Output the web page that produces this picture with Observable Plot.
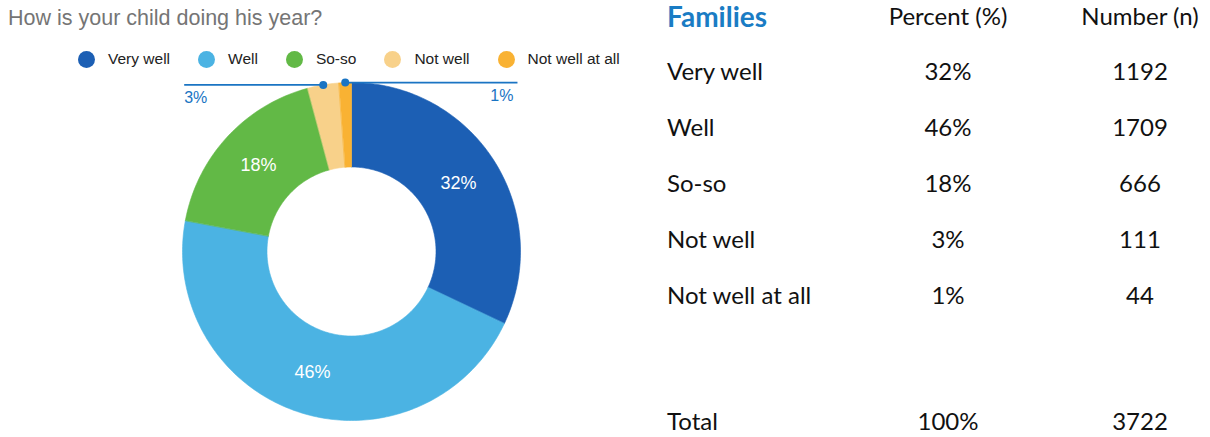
<!DOCTYPE html>
<html>
<head>
<meta charset="utf-8">
<script src="https://cdn.jsdelivr.net/npm/d3@7"></script>
<script src="https://cdn.jsdelivr.net/npm/@observablehq/plot@0.6"></script>
<style>
  html, body { margin: 0; padding: 0; background: #fff; }
  #page { position: relative; width: 1210px; height: 437px; overflow: hidden; background: #fff; }
  #title { position: absolute; left: 8px; top: 6px; font: 21.5px/24px "Liberation Sans", Arial, sans-serif; color: #757575; white-space: nowrap; }
  #legend { position: absolute; left: 78px; top: 50px; display: flex; align-items: center; font: 15.5px "Liberation Sans", Arial, sans-serif; color: #222; white-space: nowrap; }
  #legend .item { display: flex; align-items: center; margin-right: 28px; }
  #legend .sw { width: 17px; height: 17px; border-radius: 50%; margin-right: 13px; }
  #chart { position: absolute; left: 0; top: 0; }
  .cell { position: absolute; height: 40px; line-height: 40px; font-family: Lato, "Open Sans", sans-serif; font-size: 24px; color: #111; white-space: nowrap; }
  .c0 { left: 667px; }
  .c1 { left: 848px; width: 200px; text-align: center; }
  .c2 { left: 1040px; width: 200px; text-align: center; }
  .hdr0 { font-weight: bold; color: #1a7cc4; font-size: 28px; }
</style>
</head>
<body>
<div id="page">
  <div id="title"></div>
  <div id="legend"></div>
  <div id="chart"></div>
  <div id="table"></div>
</div>
<script>
// ---- data ----
const title = "How is your child doing his year?";
const categories = ["Very well", "Well", "So-so", "Not well", "Not well at all"];
const counts = [1192, 1709, 666, 111, 44];
const colors = ["#1c5fb4", "#4bb3e3", "#62b946", "#f8d18a", "#f9b233"];
const tableHeader = ["Families", "Percent (%)", "Number (n)"];
const totalLabel = "Total";
const totalPercent = "100%";
const totalCount = 3722;

// ---- derived ----
const sum = d3.sum(counts);
const fracs = counts.map(c => c / sum);
const pctText = fracs.map(f => Math.round(f * 100) + "%");
const HOLE = 0.5;
const TAU = 2 * Math.PI;

let cum = 0;
const slices = categories.map((cat, i) => {
  const a0 = cum * TAU;
  cum += fracs[i];
  const a1 = cum * TAU;
  return {cat, a0, a1, mid: (a0 + a1) / 2, frac: fracs[i], label: pctText[i]};
});

// ring polygons sampled from data angles
const arcPoints = [];
for (const s of slices) {
  const n = Math.max(2, Math.ceil((s.a1 - s.a0) / TAU * 360));
  for (let k = 0; k <= n; k++) {
    const a = s.a0 + (s.a1 - s.a0) * k / n;
    arcPoints.push({cat: s.cat, x: Math.sin(a), y: Math.cos(a)});
  }
  for (let k = n; k >= 0; k--) {
    const a = s.a0 + (s.a1 - s.a0) * k / n;
    arcPoints.push({cat: s.cat, x: HOLE * Math.sin(a), y: HOLE * Math.cos(a)});
  }
}

const labelR = (1 + HOLE) / 2;
const inside = slices.filter(s => s.frac >= 0.05).map(s => ({
  x: labelR * Math.sin(s.mid), y: labelR * Math.cos(s.mid), text: s.label
}));

const REACH = 0.99;
const outside = slices.filter(s => s.frac < 0.05).map(s => {
  const px = Math.sin(s.mid), py = Math.cos(s.mid);
  const left = px < -0.1;
  return {
    px, py, left,
    ex: left ? -REACH : REACH * 0.992,
    lx: left ? -REACH : REACH * 0.968,
    text: s.label
  };
});
const outLeft = outside.filter(d => d.left);
const outRight = outside.filter(d => !d.left);

// ---- title & legend ----
document.getElementById("title").textContent = title;
const legend = document.getElementById("legend");
categories.forEach((c, i) => {
  const it = document.createElement("div");
  it.className = "item";
  const sw = document.createElement("span");
  sw.className = "sw";
  sw.style.background = colors[i];
  const t = document.createElement("span");
  t.textContent = c;
  it.appendChild(sw); it.appendChild(t);
  legend.appendChild(it);
});

// ---- donut ----
const leaderColor = "#1a74c3";
const chart = Plot.plot({
  width: 640,
  height: 437,
  margin: 0,
  style: {fontFamily: "'Liberation Sans', Arial, sans-serif", background: "transparent"},
  x: {domain: [-1, 1], range: [182, 520], axis: null},
  y: {domain: [-1, 1], range: [420, 82], axis: null},
  color: {domain: categories, range: colors},
  marks: [
    Plot.line(arcPoints, {x: "x", y: "y", z: "cat", fill: "cat", stroke: "cat", strokeWidth: 0.6, curve: "linear-closed"}),
    Plot.text(inside, {x: "x", y: "y", text: "text", fill: "white", fontSize: 18}),
    Plot.link(outside, {x1: "px", y1: "py", x2: "ex", y2: "py", stroke: leaderColor, strokeWidth: 1.8}),
    Plot.dot(outside, {x: "px", y: "py", r: 4, fill: leaderColor}),
    Plot.text(outLeft, {x: "lx", y: "py", text: "text", textAnchor: "start", dy: 13, fill: leaderColor, fontSize: 16}),
    Plot.text(outRight, {x: "lx", y: "py", text: "text", textAnchor: "end", dy: 13, fill: leaderColor, fontSize: 16})
  ]
});
document.getElementById("chart").appendChild(chart);

// ---- table ----
const table = document.getElementById("table");
const rowCenters = [16, 71, 127, 183, 239, 295, 421];
function cell(text, col, yc, extra) {
  const d = document.createElement("div");
  d.className = "cell c" + col + (extra ? " " + extra : "");
  d.style.top = (yc - 20) + "px";
  d.textContent = text;
  table.appendChild(d);
}
tableHeader.forEach((h, j) => cell(h, j, rowCenters[0], j === 0 ? "hdr0" : ""));
categories.forEach((c, i) => {
  cell(c, 0, rowCenters[i + 1]);
  cell(pctText[i], 1, rowCenters[i + 1]);
  cell(String(counts[i]), 2, rowCenters[i + 1]);
});
cell(totalLabel, 0, rowCenters[6]);
cell(totalPercent, 1, rowCenters[6]);
cell(String(totalCount), 2, rowCenters[6]);
</script>
</body>
</html>
